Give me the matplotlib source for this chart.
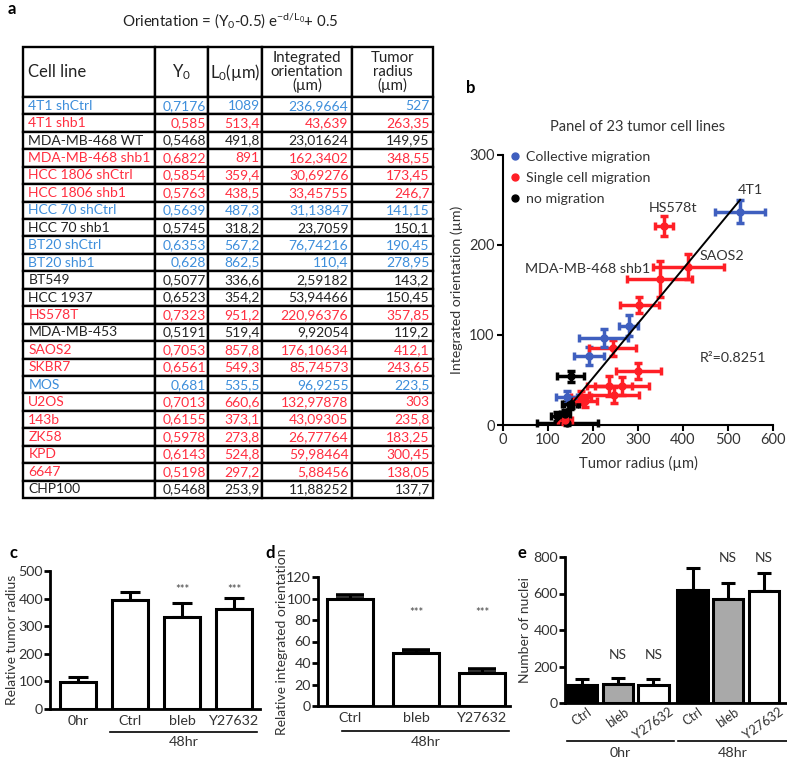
import matplotlib
matplotlib.use('Agg')
import matplotlib.pyplot as plt
import numpy as np
from matplotlib.lines import Line2D
from matplotlib.table import Table
from matplotlib.transforms import blended_transform_factory

plt.rcParams['font.family'] = ['Lato', 'DejaVu Sans']
plt.rcParams['mathtext.fontset'] = 'custom'
plt.rcParams['mathtext.rm'] = 'Lato'
plt.rcParams['mathtext.it'] = 'Lato:italic'
plt.rcParams['mathtext.bf'] = 'Lato:bold'

# ---------------- data ----------------
cell_lines = ['4T1 shCtrl', '4T1 shb1', 'MDA-MB-468 WT', 'MDA-MB-468 shb1', 'HCC 1806 shCtrl',
              'HCC 1806 shb1', 'HCC 70 shCtrl', 'HCC 70 shb1', 'BT20 shCtrl', 'BT20 shb1', 'BT549',
              'HCC 1937', 'HS578T', 'MDA-MB-453', 'SAOS2', 'SKBR7', 'MOS', 'U2OS', '143b', 'ZK58',
              'KPD', '6647', 'CHP100']
y0_txt = ['0,7176', '0,585', '0,5468', '0,6822', '0,5854', '0,5763', '0,5639', '0,5745', '0,6353',
          '0,628', '0,5077', '0,6523', '0,7323', '0,5191', '0,7053', '0,6561', '0,681', '0,7013',
          '0,6155', '0,5978', '0,6143', '0,5198', '0,5468']
l0_txt = ['1089', '513,4', '491,8', '891', '359,4', '438,5', '487,3', '318,2', '567,2', '862,5',
          '336,6', '354,2', '951,2', '519,4', '857,8', '549,3', '535,5', '660,6', '373,1', '273,8',
          '524,8', '297,2', '253,9']
integ_txt = ['236,9664', '43,639', '23,01624', '162,3402', '30,69276', '33,45755', '31,13847',
             '23,7059', '76,74216', '110,4', '2,59182', '53,94466', '220,96376', '9,92054',
             '176,10634', '85,74573', '96,9255', '132,97878', '43,09305', '26,77764', '59,98464',
             '5,88456', '11,88252']
radius_txt = ['527', '263,35', '149,95', '348,55', '173,45', '246,7', '141,15', '150,1', '190,45',
              '278,95', '143,2', '150,45', '357,85', '119,2', '412,1', '243,65', '223,5', '303',
              '235,8', '183,25', '300,45', '138,05', '137,7']
# migration type: C = collective, S = single cell, N = none
migration = ['C', 'S', 'N', 'S', 'S', 'S', 'C', 'N', 'C', 'C', 'N', 'N', 'S', 'N', 'S', 'S', 'C',
             'S', 'S', 'S', 'S', 'S', 'N']
# estimated error bars
radius_err = [55, 60, 15, 72, 22, 55, 23, 18, 33, 22, 67, 30, 20, 12, 78, 52, 54, 44, 50, 25, 50, 16, 12]
integ_err = [13, 10, 5, 20, 7, 9, 7, 5, 10, 12, 3, 6, 11, 5, 14, 9, 10, 9, 11, 7, 9, 5, 5]
r_squared_txt = 'R²=0.8251'

c_labels = ['0hr', 'Ctrl', 'bleb', 'Y27632']
c_vals = [99, 395, 332, 362]
c_err = [16, 30, 51, 41]

d_labels = ['Ctrl', 'bleb', 'Y27632']
d_vals = [100, 49, 31]
d_err = [3.5, 3, 3]

e_labels = ['Ctrl', 'bleb', 'Y27632', 'Ctrl', 'bleb', 'Y27632']
e_vals = [99, 102, 99, 619, 570, 615]
e_err = [31, 37, 32, 122, 89, 99]

def num(s):
    return float(s.replace(',', '.'))

radius = np.array([num(s) for s in radius_txt])
integ = np.array([num(s) for s in integ_txt])

tab_colors = {'C': '#3d8edb', 'S': '#ff2e40', 'N': '#222222'}
dot_colors = {'C': '#3f5fbf', 'S': '#ff1f26', 'N': '#000000'}
W, H = 787, 763

fig = plt.figure(figsize=(W / 100, H / 100), dpi=100)

def fx(px):
    return px / W

def fy(py):
    return 1 - py / H

# ---------------- panel a: table ----------------
fig.text(fx(8), fy(9), 'a', fontsize=12, weight='bold', va='center', ha='left')
fig.text(fx(230), fy(21), r'Orientation = (Y$_0$-0.5) e$^{\mathrm{-d/L_0}}$+ 0.5',
         fontsize=10.8, ha='center', va='center', color='#222222')

ax_t = fig.add_axes([fx(23), fy(498), fx(410), 451 / H])
ax_t.axis('off')
col_w = [132, 53, 54, 90, 81]
head_h, row_h = 50, 17.43
headers = ['Cell line', 'Y$_0$', 'L$_0$(µm)', 'Integrated\norientation\n(µm)', 'Tumor\nradius\n(µm)']
tab = Table(ax_t, bbox=[0, 0, 1, 1])
for j, htxt in enumerate(headers):
    c = tab.add_cell(0, j, col_w[j], head_h, text=htxt, loc='left' if j == 0 else 'center',
                     facecolor='white', edgecolor='black')
    c.PAD = 0.04
    t = c.get_text()
    t.set_fontsize(12 if j < 3 else 10.8)
    t.set_linespacing(0.95)
    t.set_multialignment('center')
    t.set_color('#222222')
    c.set_linewidth(1.7)
cols = [cell_lines, y0_txt, l0_txt, integ_txt, radius_txt]
for i in range(len(cell_lines)):
    for j in range(5):
        c = tab.add_cell(i + 1, j, col_w[j], row_h, text=cols[j][i],
                         loc='left' if j == 0 else 'right', facecolor='white', edgecolor='black')
        c.PAD = 0.04
        t = c.get_text()
        t.set_fontsize(10)
        t.set_color(tab_colors[migration[i]])
        c.set_linewidth(1.7)
tab.auto_set_font_size(False)
ax_t.add_table(tab)

# ---------------- panel b: scatter ----------------
fig.text(fx(466), fy(88), 'b', fontsize=12, weight='bold', va='center', ha='left')
axb = fig.add_axes([fx(503), fy(425), 270 / W, 270 / H])
for k in range(len(radius)):
    col = dot_colors[migration[k]]
    axb.errorbar(radius[k], integ[k], xerr=radius_err[k], yerr=integ_err[k], fmt='o', ms=5,
                 color=col, ecolor=col, elinewidth=2.5, capsize=3, capthick=2.5, clip_on=False,
                 zorder=3)
slope, intercept = np.polyfit(radius, integ, 1)
xs = np.array([radius.min(), radius.max()])
axb.plot(xs, slope * xs + intercept, color='black', lw=1.4, zorder=4)
axb.set_xlim(0, 600)
axb.set_ylim(0, 300)
axb.set_xticks(range(0, 601, 100))
axb.set_yticks([0, 100, 200, 300])
for s in ['top', 'right']:
    axb.spines[s].set_visible(False)
for s in ['left', 'bottom']:
    axb.spines[s].set_linewidth(1.5)
axb.tick_params(width=1.5, length=4, labelsize=10.5, labelcolor='#333333', pad=2)
axb.set_xlabel('Tumor radius (µm)', fontsize=10.5, color='#333333', labelpad=6)
axb.set_ylabel('Integrated orientation (µm)', fontsize=10.2, color='#333333')
axb.yaxis.set_label_coords(-0.148, 0.5)
axb.set_title('Panel of 23 tumor cell lines', fontsize=10.5, color='#333333', pad=17)
handles = [Line2D([], [], ls='', marker='o', ms=5, color=dot_colors[k]) for k in ['C', 'S', 'N']]
axb.legend(handles, ['Collective migration', 'Single cell migration', 'no migration'],
           loc='upper left', bbox_to_anchor=(-0.005, 1.035), frameon=False, fontsize=10.2,
           handletextpad=0.25, handlelength=1.1, labelspacing=0.62, borderaxespad=0,
           labelcolor='#333333')
ann = [('4T1', 549, 261), ('HS578t', 378, 241), ('SAOS2', 487, 188),
       ('MDA-MB-468 shb1', 189, 173), (r_squared_txt, 511, 74)]
for txt, x, y in ann:
    axb.text(x, y, txt, fontsize=10.3, color='#333333', ha='center', va='center')

# ---------------- bar panels ----------------
def style_bar_axes(ax, ylabel, label_x, ylabel_fs=10):
    for s in ['top', 'right']:
        ax.spines[s].set_visible(False)
    for s in ['left', 'bottom']:
        ax.spines[s].set_linewidth(2)
    ax.tick_params(axis='y', width=2, length=4, labelsize=10.3, labelcolor='#333333', pad=1)
    ax.tick_params(axis='x', length=0, labelsize=10.3, labelcolor='#333333', pad=4)
    ax.set_ylabel(ylabel, fontsize=ylabel_fs, color='#333333')
    ax.yaxis.set_label_coords(label_x, 0.5)

def group_line(ax, x0, x1, yline, ytext, label):
    tr = blended_transform_factory(ax.transData, ax.transAxes)
    ax.plot([x0, x1], [yline, yline], color='black', lw=1.2, transform=tr, clip_on=False)
    ax.text((x0 + x1) / 2, ytext, label, transform=tr, ha='center', va='center',
            fontsize=10.3, color='#333333')

# panel c
fig.text(fx(10), fy(553), 'c', fontsize=12, weight='bold', va='center', ha='left')
axc = fig.add_axes([fx(50), fy(709), 210 / W, 138 / H])
xc = np.arange(len(c_labels))
axc.bar(xc, c_vals, width=0.7, color='white', edgecolor='black', linewidth=2.2, zorder=2)
axc.errorbar(xc, c_vals, yerr=[np.zeros(len(c_err)), c_err], fmt='none', ecolor='black',
             elinewidth=2.2, capsize=7, capthick=2.2, zorder=1)
axc.set_xlim(-0.54, 3.5)
axc.set_ylim(0, 500)
axc.set_yticks(range(0, 501, 100))
axc.set_xticks(xc)
axc.set_xticklabels(c_labels)
style_bar_axes(axc, 'Relative tumor radius', -0.15)
for k in [2, 3]:
    axc.text(xc[k], 432, '***', ha='center', va='center', fontsize=8, color='#444444')
group_line(axc, 0.62, 3.45, -0.167, -0.24, '48hr')

# panel d
fig.text(fx(265), fy(553), 'd', fontsize=12, weight='bold', va='center', ha='left')
axd = fig.add_axes([fx(318), fy(706), 192 / W, 129 / H])
xd = np.arange(len(d_labels))
axd.bar(xd, d_vals, width=0.7, color='white', edgecolor='black', linewidth=2.2, zorder=2)
axd.errorbar(xd, d_vals, yerr=[np.zeros(len(d_err)), d_err], fmt='none', ecolor='black',
             elinewidth=2.2, capsize=10, capthick=2.6, zorder=1)
axd.set_xlim(-0.48, 2.42)
axd.set_ylim(0, 120)
axd.set_yticks(range(0, 121, 20))
axd.set_xticks(xd)
axd.set_xticklabels(d_labels)
style_bar_axes(axd, 'Relative integrated orientation', -0.155)
for k in [1, 2]:
    axd.text(xd[k], 87, '***', ha='center', va='center', fontsize=8, color='#444444')
group_line(axd, -0.12, 2.4, -0.194, -0.28, '48hr')

# panel e
fig.text(fx(518), fy(553), 'e', fontsize=12, weight='bold', va='center', ha='left')
axe = fig.add_axes([fx(565), fy(703), 222 / W, 146 / H])
xe = np.array([0, 1, 2, 3.1, 4.1, 5.1])
e_fill = ['black', '#a9a9a9', 'white'] * 2
axe.bar(xe, e_vals, width=0.85, color=e_fill, edgecolor='black', linewidth=2.2, zorder=2)
axe.errorbar(xe, e_vals, yerr=[np.zeros(len(e_err)), e_err], fmt='none', ecolor='black',
             elinewidth=2.2, capsize=5, capthick=2.2, zorder=1)
axe.set_xlim(-0.48, 5.75)
axe.set_ylim(0, 800)
axe.set_yticks(range(0, 801, 200))
axe.set_xticks(xe)
axe.set_xticklabels(e_labels, rotation=35, ha='center')
style_bar_axes(axe, 'Number of nuclei', -0.153)
axe.tick_params(axis='x', pad=2, labelsize=9.3)
for k, yv in [(1, 265), (2, 265), (4, 795), (5, 795)]:
    axe.text(xe[k], yv, 'NS', ha='center', va='center', fontsize=10, color='#333333')
group_line(axe, -0.42, 2.58, -0.26, -0.34, '0hr')
group_line(axe, 2.69, 5.75, -0.26, -0.34, '48hr')

fig.savefig('out.png', dpi=100)
